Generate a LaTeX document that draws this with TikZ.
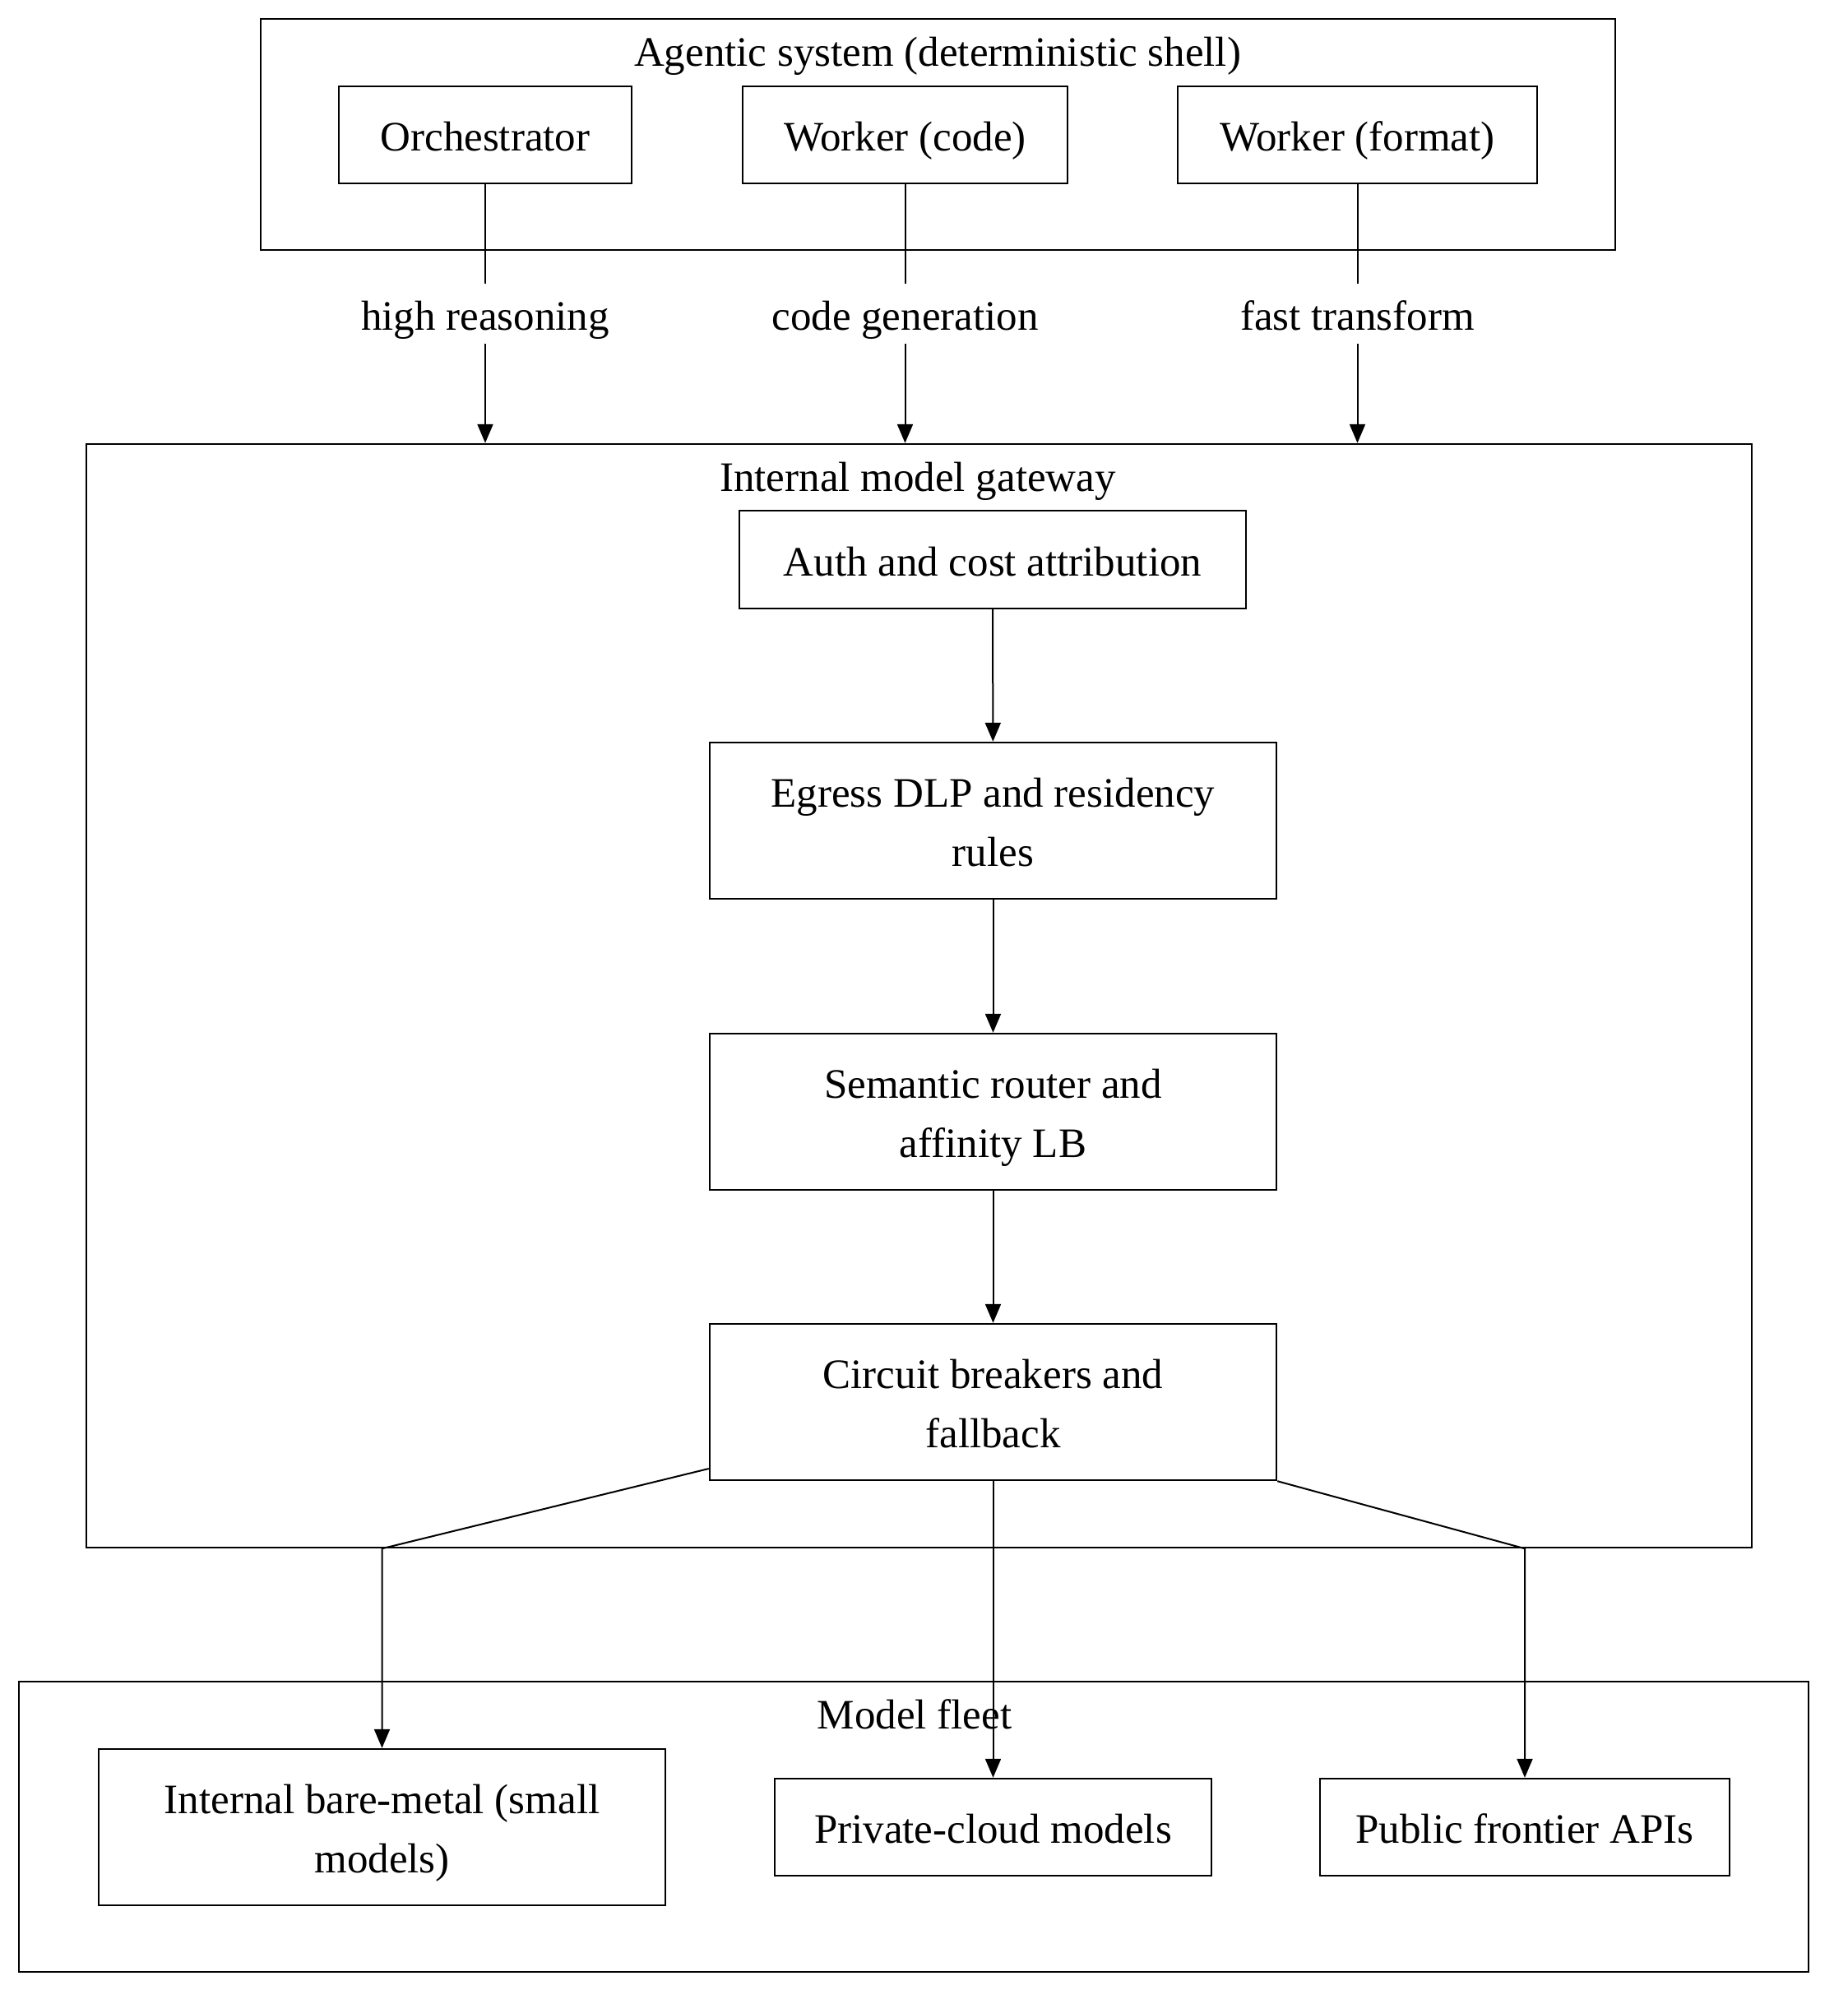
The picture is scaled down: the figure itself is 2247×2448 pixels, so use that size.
\documentclass[tikz,border=0pt]{standalone}
\usepackage{fontspec}
\setmainfont{Liberation Serif}
\usetikzlibrary{arrows.meta}
\newcommand\dgfont{\fontsize{25.5pt}{36pt}\selectfont}
\newcommand\dgs{\rule[-8.2pt]{0pt}{36pt}}
\begin{document}
\begin{tikzpicture}[x=0.5pt,y=-0.5pt,
  every node/.style={font=\dgfont},
  box/.style={draw,line width=1.2pt,inner sep=0pt,align=center},
  cont/.style={draw,line width=1.2pt,inner sep=0pt},
  lbl/.style={inner sep=0pt,minimum height=36.5pt,align=center},
  ttl/.style={inner sep=0pt},
  conn/.style={line width=1pt},
  arr/.style={line width=1pt,-{Triangle[length=11.5pt,width=9.5pt]}}]
\useasboundingbox (0,0) rectangle (2247,2448);
% containers
\node[cont,minimum width=823.5pt,minimum height=140.5pt] (ag) at (1140.5,163.5) {};
\node[cont,minimum width=1012.5pt,minimum height=671pt] (gw) at (1117.5,1211) {};
\node[cont,minimum width=1088pt,minimum height=176.5pt] (fl) at (1111,2221.5) {};
\node[ttl] (agt) at (1140,61) {\dgs Agentic system (deterministic shell)};
\node[ttl] (gwt) at (1116,578) {\dgs Internal model gateway};
\node[ttl] (flt) at (1112,2083) {\dgs Model fleet};
% agentic
\node[box,minimum width=178pt,minimum height=59pt] (orch) at (590,164) {\dgs Orchestrator};
\node[box,minimum width=197.5pt,minimum height=59pt] (wc) at (1100.5,164) {\dgs Worker (code)};
\node[box,minimum width=218.5pt,minimum height=59pt] (wf) at (1650.5,164) {\dgs Worker (format)};
% labels
\node[lbl] (lhr) at (590,381.5) {\dgs high reasoning};
\node[lbl] (lcg) at (1100.5,381.5) {\dgs code generation};
\node[lbl] (lft) at (1650.5,381.5) {\dgs fast transform};
% gateway
\node[box,minimum width=308pt,minimum height=59.5pt] (auth) at (1207,680.5) {\dgs Auth and cost attribution};
\node[box,minimum width=344.5pt,minimum height=95pt] (egr) at (1207.5,998) {\dgs Egress DLP and residency\\\dgs rules};
\node[box,minimum width=344.5pt,minimum height=95pt] (sem) at (1207.5,1352) {\dgs Semantic router and\\\dgs affinity LB};
\node[box,minimum width=344.5pt,minimum height=95pt] (cb) at (1207.5,1705) {\dgs Circuit breakers and\\\dgs fallback};
% fleet
\node[box,minimum width=344.5pt,minimum height=95pt] (bm) at (464.5,2222) {\dgs Internal bare-metal (small\\\dgs models)};
\node[box,minimum width=265.5pt,minimum height=59pt] (priv) at (1207.5,2222) {\dgs Private-cloud models};
\node[box,minimum width=249pt,minimum height=59pt] (pub) at (1854,2222) {\dgs Public frontier APIs};
% edges top
\draw[conn] (orch) -- (lhr);
\draw[arr] (lhr) -- (lhr.south |- gw.north);
\draw[conn] (wc) -- (lcg);
\draw[arr] (lcg) -- (lcg.south |- gw.north);
\draw[conn] (wf) -- (lft);
\draw[arr] (lft) -- (lft.south |- gw.north);
% gateway chain
\draw[arr] (auth) -- (egr);
\draw[arr] (egr) -- (sem);
\draw[arr] (sem) -- (cb);
% fan out
\coordinate (bl) at (bm.north |- gw.south);
\coordinate (br) at (pub.north |- gw.south);
\draw[arr] ([yshift=-40.5pt]cb.west) -- (bl) -- (bm.north);
\draw[arr] (cb.south) -- (priv.north);
\draw[arr] (cb.south east) -- (br) -- (pub.north);
\end{tikzpicture}
\end{document}
